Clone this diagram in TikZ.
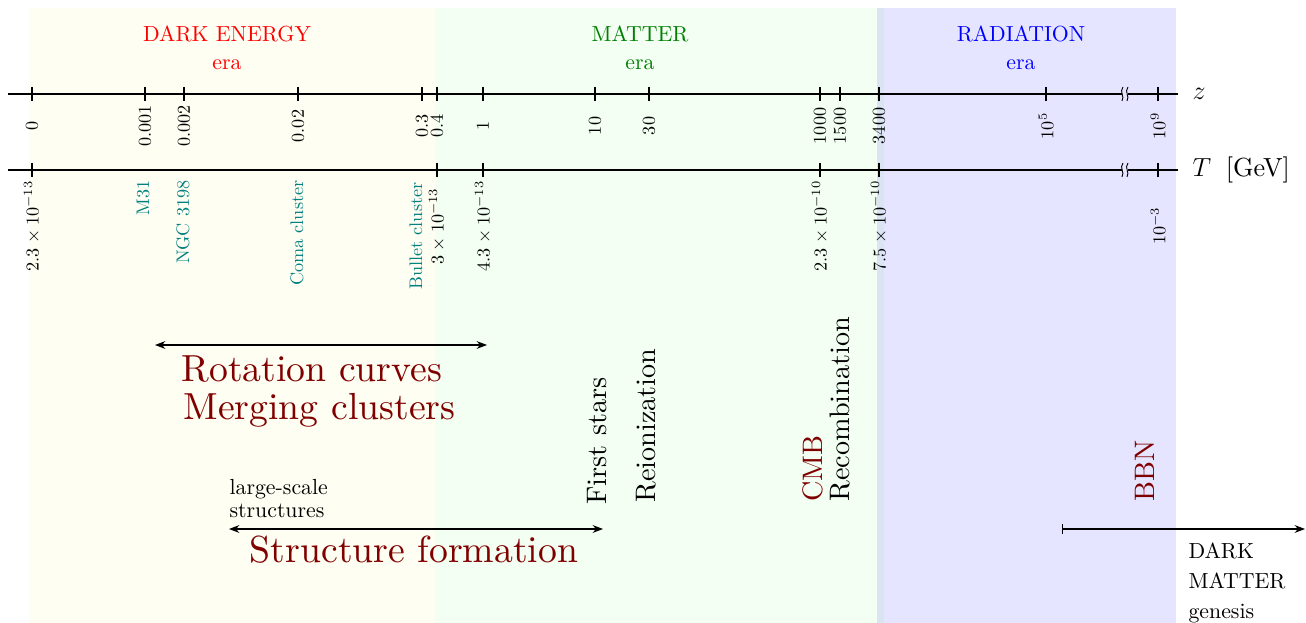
\documentclass[tikz,border=0pt]{standalone}
\usepackage{fontspec}
\setmainfont{lmroman10-regular.otf}
\usetikzlibrary{arrows.meta}
\usetikzlibrary{positioning}

\begin{document}
\begin{tikzpicture}[>=Stealth, x=0.55pt, y=-0.55pt, line width=0.6pt,
    eratitle/.style={font=\large, anchor=base, inner sep=0pt},
    ticklbl/.style={rotate=90, inner sep=0pt},
    objlbl/.style={rotate=90, anchor=east, inner sep=0pt, text=teal},
    bigtext/.style={font=\huge, text=red!50!black, inner sep=0pt},
    eventlbl/.style={rotate=90, anchor=base west, inner sep=0pt,
        font=\fontsize{15.5}{18}\selectfont},
    notelbl/.style={align=left, inner sep=0pt, font=\fontsize{12}{12.5}\selectfont}]
    \useasboundingbox (0,0) rectangle (1306,623);

    % Era bands
    \fill[yellow!5] (29,8) rectangle (435,623);
    \fill[green!5] (435,8) rectangle (884,623);
    \fill[blue, fill opacity=0.1] (877,8) rectangle (1176,623);

    % Era titles
    \node (deTitle) [eratitle, text=red] at (227,42) {DARK ENERGY};
    \node (deEra) [eratitle, text=red] at (227,70) {era};
    \node (mTitle) [eratitle, text=green!50!black] at (640,42) {MATTER};
    \node (mEra) [eratitle, text=green!50!black] at (640,70) {era};
    \node (rTitle) [eratitle, text=blue] at (1021,42) {RADIATION};
    \node (rEra) [eratitle, text=blue] at (1021,70) {era};

    % Axes with a break
    \coordinate (zL) at (8,94);
    \coordinate (zB1) at (1122,94);
    \coordinate (zB2) at (1128,94);
    \coordinate (zR) at (1178,94);
    \coordinate (tL) at (8,170);
    \coordinate (tB1) at (1122,170);
    \coordinate (tB2) at (1128,170);
    \coordinate (tR) at (1178,170);
    \draw (zL) -- (zB1) (zB2) -- (zR);
    \draw (tL) -- (tB1) (tB2) -- (tR);
    \foreach \y in {94,170} {
        \draw[line width=0.5pt] (1123,\y-7) .. controls (1119,\y-2) and (1125,\y+2) .. (1122,\y+7);
        \draw[line width=0.5pt] (1128,\y-7) .. controls (1124,\y-2) and (1130,\y+2) .. (1127,\y+7);
    }
    \node (zName) [anchor=west, font=\Large] at (1186,94) {$z$};
    \node (tName) [anchor=west, font=\Large] at (1186,170) {$T$\hspace{8pt}[GeV]};

    % Redshift ticks
    \foreach \x/\lbl [count=\i] in {32/0, 145/0.001, 184/0.002, 298/0.02, 422/0.3, 437/0.4,
        483/1, 595/10, 649/30, 820/1000, 840/1500, 879/3400, 1046/10^5, 1158/10^9} {
        \draw (\x,87) -- (\x,101);
        \node (zl\i) [ticklbl] at (\x,126) {$\lbl$};
    }

    % Temperature ticks
    \foreach \x/\lbl [count=\i] in {32/2.3\times10^{-13}, 437/3\times10^{-13}, 483/4.3\times10^{-13},
        820/2.3\times10^{-10}, 879/7.5\times10^{-10}, 1158/10^{-3}} {
        \draw (\x,163) -- (\x,177);
        \node (tl\i) [ticklbl] at (\x,226) {$\lbl$};
    }

    % Objects
    \node (m31) [objlbl] at (143,180) {M31};
    \node (ngc) [objlbl] at (183,180) {NGC 3198};
    \node (coma) [objlbl] at (297,180) {Coma cluster};
    \node (bullet) [objlbl] at (416,182) {Bullet cluster};

    % Probes
    \coordinate (rotL) at (155,345);
    \coordinate (rotR) at (487,345);
    \draw[<->] (rotL) -- (rotR);
    \node (rot) [bigtext, anchor=base west] at (181,381) {Rotation curves};
    \node (merge) [bigtext, anchor=base west] at (183,419) {Merging clusters};

    \node (lss) [notelbl, anchor=north west] at (229,479) {large-scale\\structures};
    \coordinate (sfL) at (229,529);
    \coordinate (sfR) at (603,529);
    \draw[<->] (sfL) -- (sfR);
    \node (sf) [bigtext, anchor=base] at (414,562) {Structure formation};

    % Events
    \node (stars) [eventlbl] at (606,505) {First stars};
    \node (reion) [eventlbl] at (655,503) {Reionization};
    \node (cmb) [eventlbl, text=red!50!black] at (822,502) {CMB};
    \node (recomb) [eventlbl] at (849,502) {Recombination};
    \node (bbn) [eventlbl, text=red!50!black] at (1154,502) {BBN};

    % Dark matter genesis
    \coordinate (dmL) at (1062,529);
    \coordinate (dmR) at (1305,529);
    \draw[{Bar[width=5pt]}->] (dmL) -- (dmR);
    \node (dmg) [notelbl, anchor=north west, font=\fontsize{12}{16.5}\selectfont] at (1188,542) {DARK\\MATTER\\genesis};
\end{tikzpicture}
\end{document}
